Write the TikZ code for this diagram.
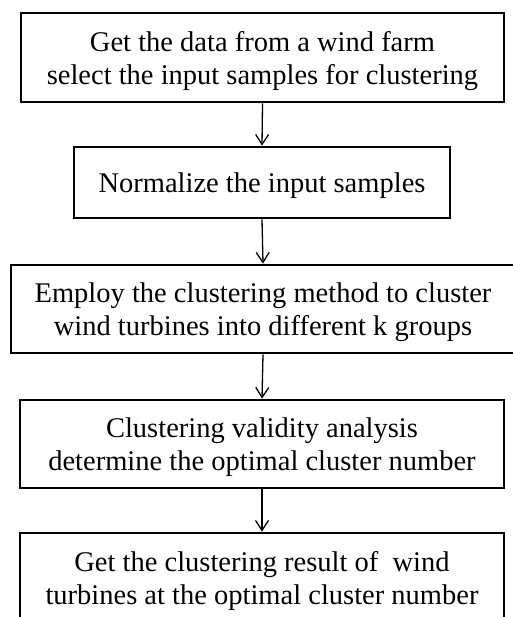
\documentclass[tikz,border=0pt]{standalone}
\usepackage{fontspec}
\setmainfont{Liberation Serif}
\usetikzlibrary{arrows.meta}
\begin{document}
\begin{tikzpicture}[x=1pt,y=-1pt,
  stepbox/.style={draw=black, line width=2.8pt, align=center, inner sep=0pt,
    font=\fontsize{28.5}{33}\selectfont, text depth=0pt},
  flow/.style={draw=black, line width=1.3pt, -{Straight Barb[length=10pt,width=13pt,line width=1.3pt]}}]
\useasboundingbox (0,0) rectangle (512,617);
\node[stepbox, minimum width=483, minimum height=89] (b1) at (262.5,57.5)
  {Get the data from a wind farm\\select the input samples for clustering};
\node[stepbox, minimum width=376, minimum height=71] (b2) at (262,182.5)
  {Normalize the input samples};
\node[stepbox, minimum width=504, minimum height=88] (b3) at (263,309)
  {Employ the clustering method to cluster\\wind turbines into different k groups};
\node[stepbox, minimum width=484, minimum height=88] (b4) at (262,444)
  {Clustering validity analysis\\determine the optimal cluster number};
\node[stepbox, minimum width=484, minimum height=90] (b5) at (262,578)
  {Get the clustering result of ~wind\\turbines at the optimal cluster number};
\draw[flow] (b1.south) -- (b2.north);
\draw[flow] (b2.south) -- (b3.north);
\draw[flow] (b3.south) -- (b4.north);
\draw[flow] (b4.south) -- (b5.north);
\end{tikzpicture}
\end{document}
